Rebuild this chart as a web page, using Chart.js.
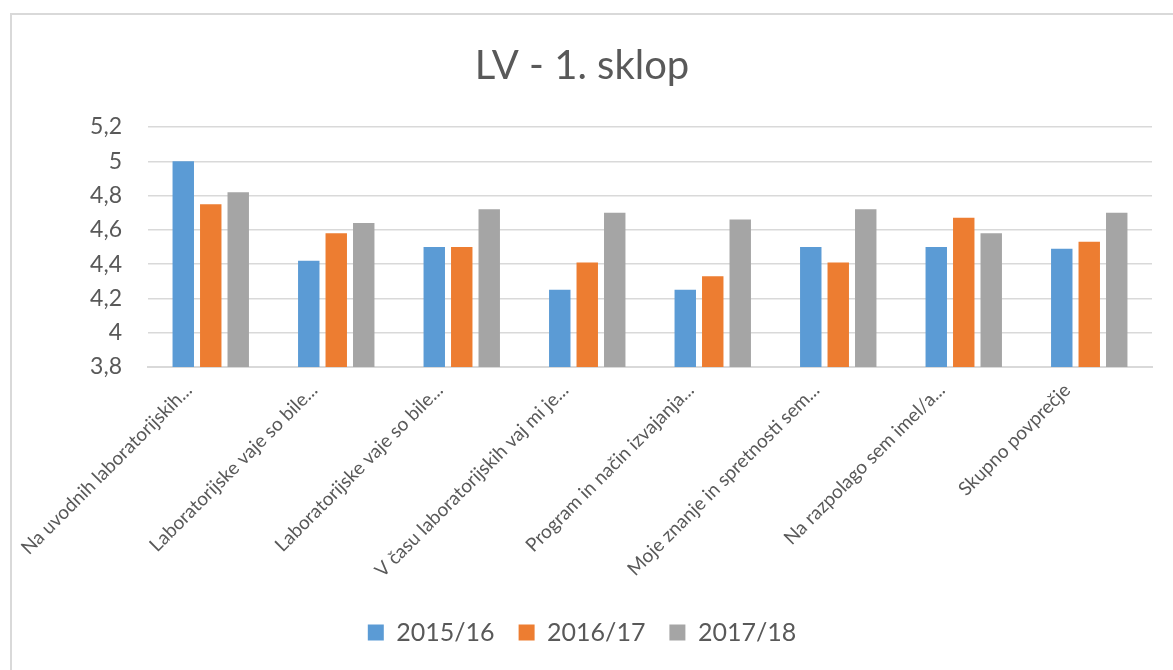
<!DOCTYPE html>
<html>
<head>
<meta charset="utf-8">
<script src="https://cdn.jsdelivr.net/npm/chart.js@4.4.1/dist/chart.umd.min.js"></script>
<style>
  html, body { margin: 0; padding: 0; background: #ffffff; }
  #wrap { width: 1173px; height: 670px; position: relative; }
</style>
</head>
<body>
<div id="wrap"><canvas id="c" width="1173" height="670"></canvas></div>
<script>
const categories = [
  'Na uvodnih laboratorijskih...',
  'Laboratorijske vaje so bile...',
  'Laboratorijske vaje so bile...',
  'V času laboratorijskih vaj mi je...',
  'Program in način izvajanja...',
  'Moje znanje in spretnosti sem...',
  'Na razpolago sem imel/a...',
  'Skupno povprečje'
];
const seriesNames = ['2015/16', '2016/17', '2017/18'];
const values2015 = [5.00, 4.42, 4.50, 4.25, 4.25, 4.50, 4.50, 4.49];
const values2016 = [4.75, 4.58, 4.50, 4.41, 4.33, 4.41, 4.67, 4.53];
const values2017 = [4.82, 4.64, 4.72, 4.70, 4.66, 4.72, 4.58, 4.70];
const yTickLabels = ['3,8', '4', '4,2', '4,4', '4,6', '4,8', '5', '5,2'];
const yMin = 3.8, yMax = 5.2, yStep = 0.2;
const titleText = 'LV - 1. sklop';
const colors = ['#5B9BD5', '#ED7D31', '#A5A5A5'];

const FONT = 'Lato, "Open Sans", "DejaVu Sans", sans-serif';
const TXT = '#595959';

const framePlugin = {
  id: 'frame',
  beforeDraw(chart) {
    const ctx = chart.ctx;
    ctx.save();
    ctx.fillStyle = '#ffffff';
    ctx.fillRect(0, 0, chart.width, chart.height);
    ctx.strokeStyle = '#d9d9d9';
    ctx.lineWidth = 2;
    ctx.strokeRect(11, 14, 1300, 800);
    ctx.restore();
  }
};

new Chart(document.getElementById('c'), {
  type: 'bar',
  data: {
    labels: categories,
    datasets: [
      { label: seriesNames[0], data: values2015, backgroundColor: colors[0] },
      { label: seriesNames[1], data: values2016, backgroundColor: colors[1] },
      { label: seriesNames[2], data: values2017, backgroundColor: colors[2] }
    ]
  },
  options: {
    responsive: false,
    animation: false,
    devicePixelRatio: 1,
    categoryPercentage: 0.657,
    barPercentage: 0.78,
    layout: { padding: { left: 12, right: 21, top: 0, bottom: 15 } },
    plugins: {
      tooltip: { enabled: false },
      title: {
        display: true,
        text: titleText,
        color: TXT,
        font: { family: FONT, size: 40, weight: 'normal' },
        padding: { top: 42, bottom: 37 }
      },
      legend: {
        position: 'bottom',
        labels: {
          color: TXT,
          font: { family: FONT, size: 25 },
          boxWidth: 16,
          boxHeight: 16,
          padding: 24
        }
      }
    },
    scales: {
      x: {
        grid: { display: false, drawTicks: false },
        border: { display: true, color: '#d9d9d9', width: 2 },
        ticks: {
          color: TXT,
          font: { family: FONT, size: 19 },
          minRotation: 45,
          maxRotation: 45,
          autoSkip: false,
          padding: 12,
          labelOffset: -22
        },
        afterFit(scale) { scale.height = 229; }
      },
      y: {
        min: yMin,
        max: yMax,
        grid: { color: '#d9d9d9', lineWidth: 1.5, drawTicks: false },
        border: { display: false },
        ticks: {
          stepSize: yStep,
          color: TXT,
          font: { family: FONT, size: 23 },
          padding: 26,
          callback: (v, i) => yTickLabels[i]
        },
        afterFit(scale) { scale.width = 136; }
      }
    }
  },
  plugins: [framePlugin]
});
</script>
</body>
</html>
